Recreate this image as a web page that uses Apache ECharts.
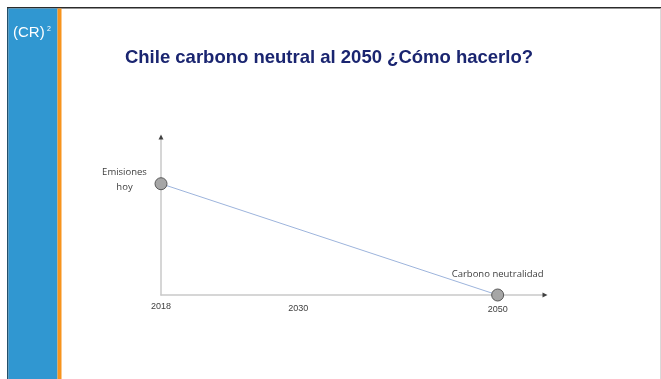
<!DOCTYPE html>
<html>
<head>
<meta charset="utf-8">
<script src="https://cdn.jsdelivr.net/npm/echarts@6/dist/echarts.min.js"></script>
<style>
  html, body { margin: 0; padding: 0; background: #fff; }
  #chart { width: 661px; height: 379px; }
</style>
</head>
<body>
<div id="chart"></div>
<script>
// Emission path: today's emissions down to carbon neutrality
const years = [2018, 2050];
const emissions = [1, 0];
const pointLabels = ['Emisiones\nhoy', 'Carbono neutralidad'];
const yearTicks = [2018, 2030, 2050];
const xEnd = 2054.5;   // arrow end of the time axis
const yEnd = 1.42;     // arrow end of the emissions axis

const chart = echarts.init(document.getElementById('chart'), null, { renderer: 'canvas' });

const font = '"Liberation Sans", Arial, sans-serif';
const labelFont = '"Open Sans", "Liberation Sans", sans-serif';

chart.setOption({
  backgroundColor: '#ffffff',
  animation: false,
  title: {
    text: 'Chile carbono neutral al 2050 ¿Cómo hacerlo?',
    left: 324,
    top: 43,
    textAlign: 'center',
    textStyle: { fontFamily: font, fontSize: 18.5, fontWeight: 'bold', color: '#1a2570' }
  },
  graphic: [
    // frame and side panel
    { type: 'rect', shape: { x: 7, y: 7, width: 654, height: 1.5 }, style: { fill: '#2b2b2b' } },
    { type: 'rect', shape: { x: 7, y: 8, width: 1.5, height: 371 }, style: { fill: '#24506a' } },
    { type: 'rect', shape: { x: 8.5, y: 8.5, width: 49, height: 371 }, style: { fill: '#3097d1' } },
    { type: 'rect', shape: { x: 57.5, y: 8.5, width: 4, height: 371 }, style: { fill: '#f7941d' } },
    { type: 'rect', shape: { x: 660, y: 8.5, width: 1, height: 371 }, style: { fill: '#d9d9d9' } },
    {
      type: 'text', left: 13, top: 25,
      style: { text: '(CR)', fill: '#ffffff', font: '15px ' + font }
    },
    {
      type: 'text', left: 47, top: 26,
      style: { text: '2', fill: '#ffffff', font: '7px ' + font }
    }
  ],
  grid: { left: 161, right: 116, top: 137, bottom: 84 },
  xAxis: {
    type: 'value',
    min: 2018,
    max: xEnd,
    splitLine: { show: false },
    axisTick: { show: false },
    axisLine: { show: true, lineStyle: { color: '#c9c9c9', width: 1.5 } },
    axisLabel: {
      customValues: yearTicks,
      margin: 7,
      fontFamily: font,
      fontSize: 9,
      color: '#404040',
      formatter: v => (v === 2030 ? '{mid|' + v + '}' : v === 2050 ? '{end|' + v + '}' : String(v)),
      rich: {
        mid: { fontFamily: font, fontSize: 9, color: '#404040', padding: [2, 0, 0, 22] },
        end: { fontFamily: font, fontSize: 9, color: '#404040', padding: [3, 0, 0, 0] }
      }
    }
  },
  yAxis: {
    type: 'value',
    min: 0,
    max: yEnd,
    splitLine: { show: false },
    axisTick: { show: false },
    axisLabel: { show: false },
    axisLine: { show: true, lineStyle: { color: '#c9c9c9', width: 1.5 } }
  },
  series: [
    {
      name: 'Emisiones',
      type: 'line',
      symbol: 'circle',
      symbolSize: 12,
      lineStyle: { color: '#9db4dc', width: 1 },
      itemStyle: { color: '#a6a6a6', borderColor: '#595959', borderWidth: 1 },
      label: {
        show: true,
        fontFamily: labelFont,
        fontSize: 9.5,
        color: '#404040',
        lineHeight: 15,
        formatter: p => pointLabels[p.dataIndex]
      },
      data: [
        { value: [years[0], emissions[0]], label: { position: 'left', distance: 30, align: 'center', offset: [0, -4] } },
        { value: [years[1], emissions[1]], label: { position: 'top', distance: 7 } }
      ],
      z: 3
    },
    {
      name: 'flechas',
      type: 'scatter',
      silent: true,
      symbol: 'triangle',
      symbolSize: 5,
      itemStyle: { color: '#1a1a1a' },
      data: [
        { value: [xEnd, 0], symbolRotate: -90 },
        { value: [2018, yEnd], symbolRotate: 0 }
      ],
      z: 4
    }
  ]
});
</script>
</body>
</html>
